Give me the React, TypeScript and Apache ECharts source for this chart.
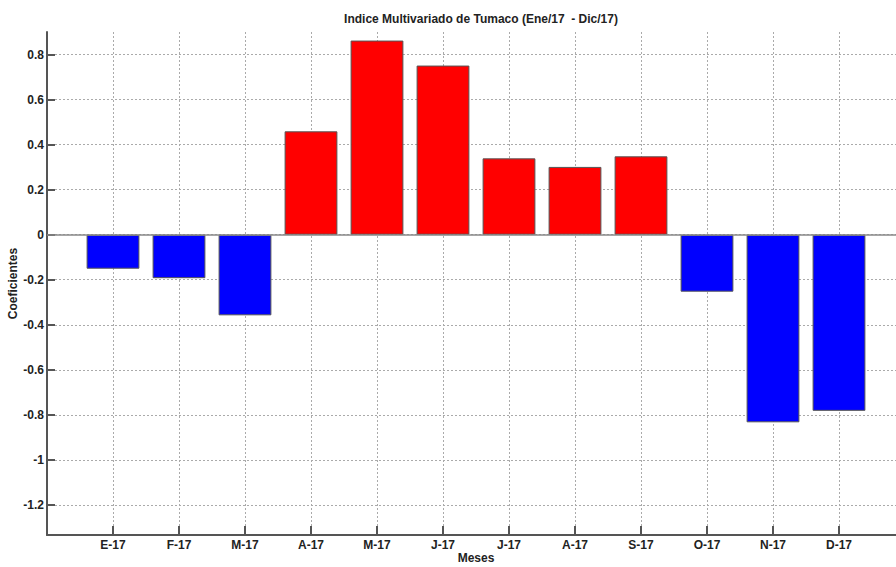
import React, { useEffect, useRef } from "react";
import * as echarts from "echarts";

const categories = ["E-17", "F-17", "M-17", "A-17", "M-17", "J-17", "J-17", "A-17", "S-17", "O-17", "N-17", "D-17"];
const values = [-0.151, -0.193, -0.358, 0.459, 0.862, 0.751, 0.339, 0.301, 0.348, -0.253, -0.833, -0.782];
const yTicks = [-1.2, -1, -0.8, -0.6, -0.4, -0.2, 0, 0.2, 0.4, 0.6, 0.8];
const xTicks = categories.map((_, i) => i + 1);

const FONT = "'Liberation Sans Narrow', 'Liberation Sans', Arial, sans-serif";

export default function App() {
  const ref = useRef<HTMLDivElement>(null);
  useEffect(() => {
    if (!ref.current) return;
    const chart = echarts.init(ref.current, undefined, { renderer: "svg" });
    const labelStyle = { fontFamily: FONT, fontWeight: "bold" as const, fontSize: 12, color: "#222" };
    chart.setOption({
      animation: false,
      backgroundColor: "#ffffff",
      title: {
        text: "Indice Multivariado de Tumaco (Ene/17  - Dic/17)",
        left: 476,
        textAlign: "center",
        top: 8,
        textStyle: { ...labelStyle, fontSize: 12 },
      },
      grid: { left: 47, right: -9, top: 32, bottom: 32, containLabel: false, outerBoundsMode: "none" },
      xAxis: {
        type: "value",
        min: 0,
        max: 13,
        name: "Meses",
        nameLocation: "middle",
        nameGap: 17,
        nameMoveOverlap: false,
        nameTextStyle: { ...labelStyle, lineHeight: 12 },
        axisLine: { show: true, onZero: false, lineStyle: { color: "#555", width: 2 } },
        axisTick: { show: true, inside: true, length: 9, customValues: xTicks, lineStyle: { color: "#555", width: 2 } },
        axisLabel: {
          customValues: xTicks,
          formatter: (v: number) => categories[Math.round(v) - 1] ?? "",
          margin: 4,
          ...labelStyle,
        },
        splitLine: { show: true, lineStyle: { color: "#aaa", type: [2, 2], width: 1 } },
      },
      yAxis: {
        type: "value",
        min: -1.3333,
        max: 0.9,
        name: "Coeficientes",
        nameLocation: "middle",
        nameGap: 28,
        nameMoveOverlap: false,
        nameTextStyle: labelStyle,
        axisLine: { show: true, onZero: false, lineStyle: { color: "#555", width: 2 } },
        axisTick: { show: true, inside: true, length: 8, customValues: yTicks, lineStyle: { color: "#555", width: 2 } },
        axisLabel: {
          customValues: yTicks,
          formatter: (v: number) => String(Math.round(v * 10) / 10),
          margin: 3,
          ...labelStyle,
        },
        splitLine: { show: true, lineStyle: { color: "#aaa", type: [2, 2], width: 1 } },
      },
      series: [
        {
          type: "bar",
          barWidth: "80%",
          data: values.map((v, i) => ({
            value: [i + 1, v],
            itemStyle: { color: v >= 0 ? "#ff0000" : "#0000ff", borderColor: "#555", borderWidth: 1 },
          })),
          markLine: {
            silent: true,
            symbol: "none",
            label: { show: false },
            lineStyle: { color: "#888", type: "solid", width: 1.5 },
            data: [{ yAxis: 0 }],
          },
        },
      ],
    });
    return () => chart.dispose();
  }, []);
  return <div ref={ref} style={{ position: "fixed", left: 0, top: 0, width: 896, height: 567 }} />;
}
